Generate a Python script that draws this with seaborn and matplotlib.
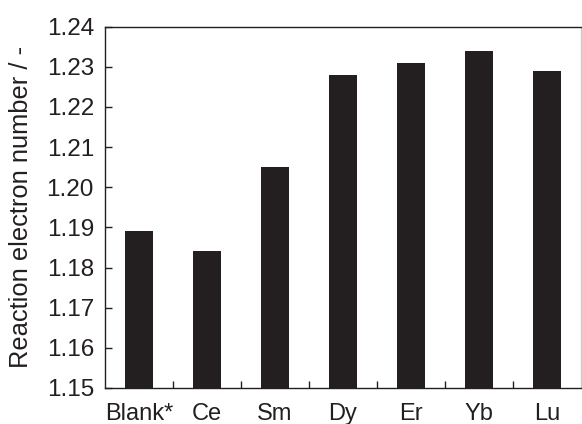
import matplotlib
matplotlib.use("Agg")
import matplotlib.pyplot as plt
import seaborn as sns
import pandas as pd
import numpy as np

categories = ["Blank*", "Ce", "Sm", "Dy", "Er", "Yb", "Lu"]
electron_number = [1.189, 1.184, 1.205, 1.228, 1.231, 1.234, 1.229]
y_ticks = [1.15, 1.16, 1.17, 1.18, 1.19, 1.20, 1.21, 1.22, 1.23, 1.24]

sns.set_style("white")
plt.rcParams["font.family"] = ["Liberation Sans", "DejaVu Sans"]

df = pd.DataFrame({"element": categories, "n": electron_number})

dark = "#231f20"
fig = plt.figure(figsize=(5.82, 4.24), dpi=100)
ax = fig.add_axes([0.1804, 0.085, 0.8176, 0.852])

sns.barplot(data=df, x="element", y="n", order=categories, color=dark,
            saturation=1, width=0.41, ax=ax, linewidth=0)

ax.set_xlim(-0.5, 6.5)
ax.set_ylim(1.15, 1.24)
ax.set_yticks(y_ticks)
ax.set_yticklabels([f"{v:.2f}" for v in y_ticks])
ax.set_xticks(range(len(categories)))
ax.set_xticklabels(categories)
ax.set_xticks(np.arange(0.5, len(categories) - 1, 1.0), minor=True)

ax.tick_params(axis="y", direction="in", length=5, width=1, color=dark,
               labelsize=17.5, labelcolor=dark, pad=8, left=True)
ax.tick_params(axis="x", which="major", length=0, labelsize=17,
               labelcolor=dark, pad=11)
ax.tick_params(axis="x", which="minor", direction="in", length=5, width=1,
               color=dark, bottom=True)

ax.set_xlabel("")
ax.set_ylabel("Reaction electron number / -", fontsize=18.4, color=dark)
ax.yaxis.set_label_coords(-0.151, 0.5)

for side in ["left", "bottom", "top"]:
    ax.spines[side].set_visible(True)
    ax.spines[side].set_color(dark)
    ax.spines[side].set_linewidth(1.0)
ax.spines["right"].set_visible(True)
ax.spines["right"].set_color("#cccccc")
ax.spines["right"].set_linewidth(1.0)

fig.savefig("out.png", dpi=100, facecolor="white")
